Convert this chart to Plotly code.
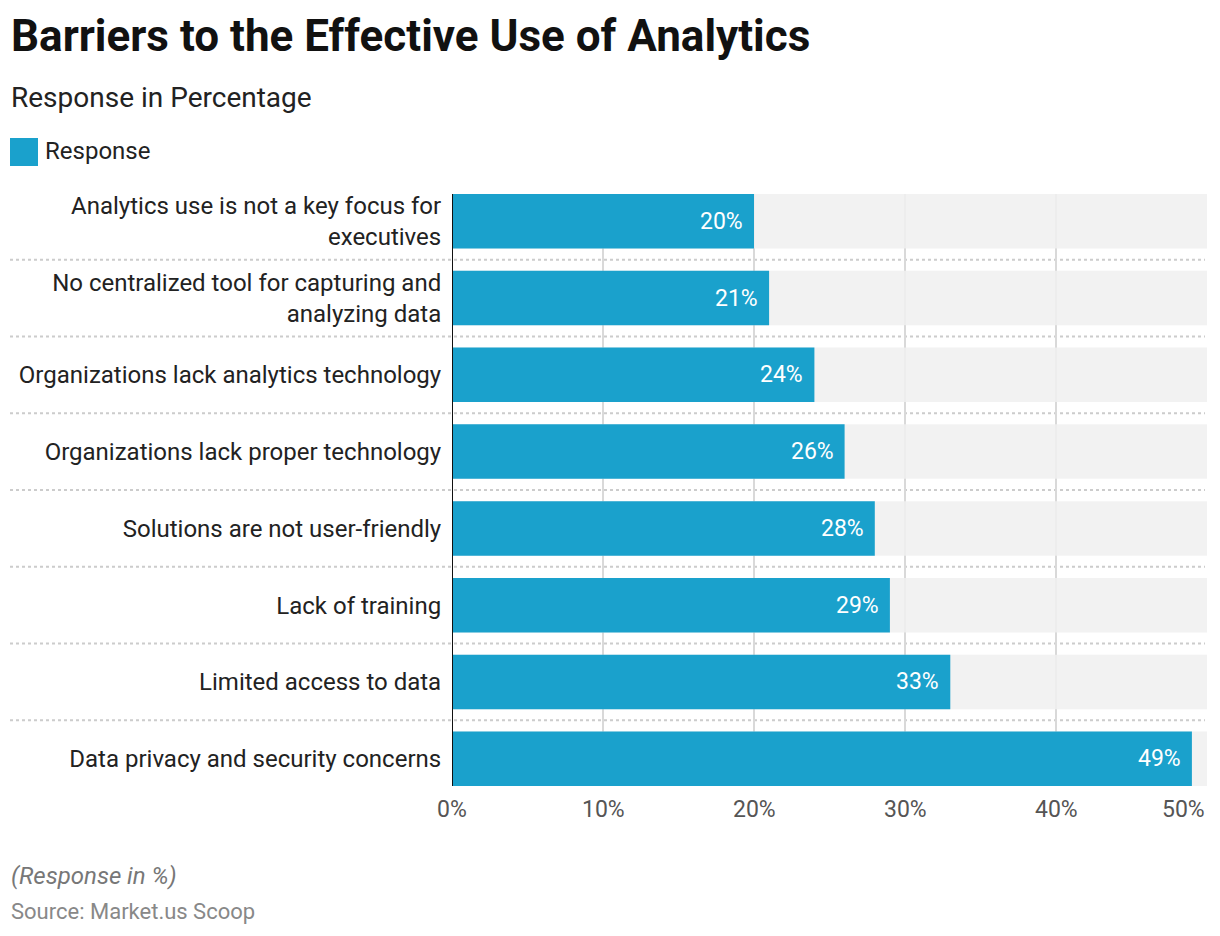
import plotly.graph_objects as go

# ---- data ----
categories = [
    "Analytics use is not a key focus for<br>executives",
    "No centralized tool for capturing and<br>analyzing data",
    "Organizations lack analytics technology",
    "Organizations lack proper technology",
    "Solutions are not user-friendly",
    "Lack of training",
    "Limited access to data",
    "Data privacy and security concerns",
]
values = [20, 21, 24, 26, 28, 29, 33, 49]
x_ticks = [0, 10, 20, 30, 40, 50]
x_tick_labels = ["0%", "10%", "20%", "30%", "40%", "50%"]
axis_max = 50

title = "Barriers to the Effective Use of Analytics"
subtitle = "Response in Percentage"
series_name = "Response"
note = "(Response in %)"
source = "Source: Market.us Scoop"

# ---- layout geometry (page pixels) ----
OFF = 8                      # page body margin
W, H = 1204, 920             # figure size
L, R, T, B = 452, 1207, 194, 786   # plot area in page pixels
BAR_W = 0.71
PADCAT = (1 - BAR_W) / 2
BLUE = "#1aa1cc"
FONT = "Roboto"


def xp(px):
    return (px - L) / (R - L)


def yp(py):
    return (B - py) / (B - T)


fig = go.Figure()

# background track bars
fig.add_trace(go.Bar(
    x=[axis_max] * len(categories), y=categories, orientation="h",
    marker=dict(color="rgba(240,240,240,0.85)", line=dict(width=0)),
    width=BAR_W, hoverinfo="skip", showlegend=False,
))
# value bars
fig.add_trace(go.Bar(
    x=values, y=categories, orientation="h", name=series_name,
    marker=dict(color=BLUE, line=dict(width=0)),
    width=BAR_W, showlegend=False,
))

annotations = []
# value labels
for c, v in zip(categories, values):
    annotations.append(dict(
        x=v, y=c, xref="x", yref="y", text=f"{v}%", showarrow=False,
        xanchor="right", yanchor="middle", xshift=-9,
        font=dict(family=FONT, size=23, color="white"),
    ))
# x tick labels
for i, (tv, tl) in enumerate(zip(x_ticks, x_tick_labels)):
    annotations.append(dict(
        x=tv, y=yp(809), xref="x", yref="paper", text=tl, showarrow=False,
        xanchor="right" if i == len(x_ticks) - 1 else "center", yanchor="middle",
        font=dict(family=FONT, size=23, color="#555555"),
    ))
# titles & footer
annotations += [
    dict(x=xp(9), y=yp(36), xref="paper", yref="paper", text=f"<b>{title}</b>",
         showarrow=False, xanchor="left", yanchor="middle",
         font=dict(family=FONT, size=44, color="#111111")),
    dict(x=xp(9), y=yp(97), xref="paper", yref="paper", text=subtitle,
         showarrow=False, xanchor="left", yanchor="middle",
         font=dict(family=FONT, size=28, color="#222222")),
    dict(x=xp(43), y=yp(151), xref="paper", yref="paper", text=series_name,
         showarrow=False, xanchor="left", yanchor="middle",
         font=dict(family=FONT, size=24, color="#222222")),
    dict(x=xp(9), y=yp(876), xref="paper", yref="paper", text=f"<i>{note}</i>",
         showarrow=False, xanchor="left", yanchor="middle",
         font=dict(family=FONT, size=24, color="#777777")),
    dict(x=xp(9), y=yp(912), xref="paper", yref="paper", text=source,
         showarrow=False, xanchor="left", yanchor="middle",
         font=dict(family=FONT, size=22, color="#888888")),
]

shapes = [
    # legend swatch
    dict(type="rect", xref="paper", yref="paper",
         x0=xp(10), x1=xp(38), y0=yp(166), y1=yp(138),
         fillcolor=BLUE, line=dict(width=0)),
]
# dotted separators between categories
for i in range(len(categories) - 1):
    shapes.append(dict(
        type="line", xref="paper", yref="y",
        x0=xp(10), x1=xp(1205), y0=i + 0.5, y1=i + 0.5,
        line=dict(color="#cccccc", width=2, dash="dot"), layer="below",
    ))
# zero axis line
shapes.append(dict(
    type="line", xref="x", yref="paper", x0=0, x1=0, y0=0, y1=1,
    line=dict(color="#111111", width=2), layer="above",
))

fig.update_layout(
    width=W, height=H,
    margin=dict(l=L - OFF, r=W - (R - OFF), t=T - OFF, b=H - (B - OFF), pad=0),
    paper_bgcolor="white", plot_bgcolor="white",
    barmode="overlay",
    font=dict(family=FONT, size=24, color="#222222"),
    xaxis=dict(range=[0, axis_max], tickvals=x_ticks, showticklabels=False,
               showgrid=True, gridcolor="#d9d9d9", gridwidth=2,
               zeroline=False, showline=False, fixedrange=True),
    yaxis=dict(categoryorder="array", categoryarray=categories,
               range=[len(categories) - 0.5 - PADCAT, -0.5 + PADCAT],
               showgrid=False, zeroline=False, showline=False,
               ticks="outside", ticklen=5, tickcolor="rgba(0,0,0,0)",
               tickfont=dict(family=FONT, size=24, color="#222222")),
    annotations=annotations, shapes=shapes,
    showlegend=False, hovermode="closest",
)

fig.write_html("out.html")
